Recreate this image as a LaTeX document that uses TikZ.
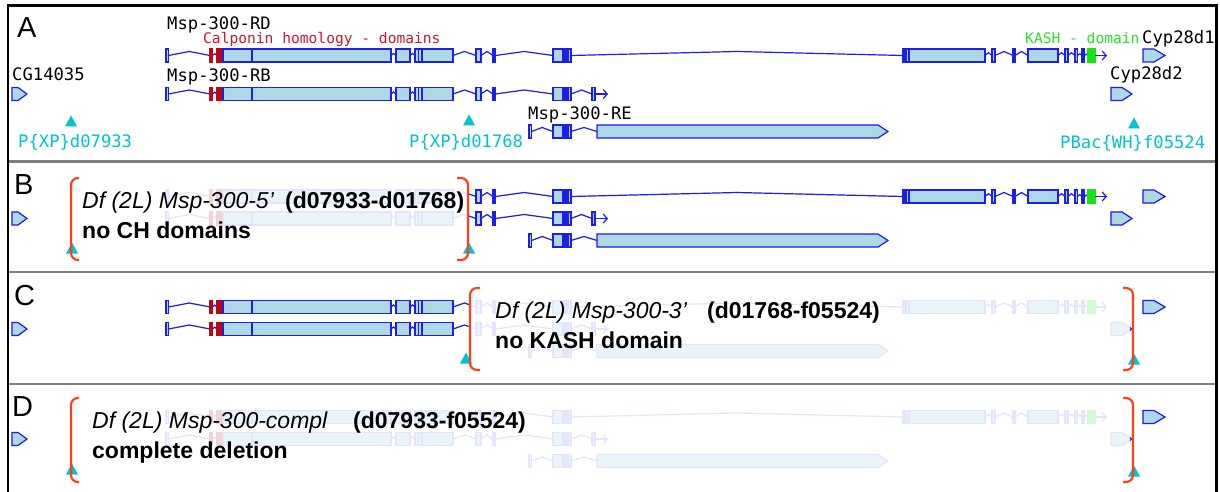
\documentclass[tikz,border=0pt]{standalone}
\usepackage{fontspec}
\setmainfont{Liberation Sans}
\newfontfamily\gbmono{DejaVu Sans Mono}
\usetikzlibrary{arrows.meta}

\definecolor{gblue}{RGB}{30,30,235}
\definecolor{gfill}{RGB}{173,216,230}
\definecolor{gred}{RGB}{185,10,20}
\definecolor{ggreen}{RGB}{20,230,20}
\definecolor{gcyan}{RGB}{0,195,210}
\definecolor{gbrack}{RGB}{255,65,25}
\definecolor{txtred}{RGB}{205,25,35}
\definecolor{txtgreen}{RGB}{40,225,40}
\definecolor{sepgray}{RGB}{125,125,125}
\colorlet{cL}{gblue}
\colorlet{cF}{gfill}
\colorlet{cR}{gred}
\colorlet{cG}{ggreen}

\newcommand\fadecolors{\colorlet{cL}{gblue!12!white}\colorlet{cF}{gfill!25!white}\colorlet{cR}{gred!18!white}\colorlet{cG}{ggreen!20!white}}

\tikzset{
  ln/.style={draw=cL, line width=1.2pt},
  exon/.style={draw=cL, fill=cF, line width=1.2pt},
  exonR/.style={draw=cR, fill=cR, line width=1.2pt},
  exonD/.style={draw=cL, fill=cL, line width=1.2pt},
  exonG/.style={draw=cG, fill=cG, line width=1.2pt},
  endarrow/.style={ln, -{Straight Barb[length=4pt,width=9pt]}},
  lab/.style={font=\gbmono\fontsize{17.2}{19}\selectfont, inner sep=0pt, anchor=base west},
  domlab/.style={font=\gbmono\fontsize{14.6}{17}\selectfont, inner sep=0pt, anchor=base west},
  cyanlab/.style={lab, text=gcyan},
  ptxt/.style={font=\fontsize{23}{27}\selectfont, inner sep=0pt, anchor=base west},
  panel/.style={font=\fontsize{29}{33}\selectfont, inner sep=0pt, anchor=base west},
  brk/.style={draw=gbrack, line width=2.2pt, rounded corners=7pt},
  sep/.style={draw=sepgray, line width=2.5pt},
  frame/.style={draw=black, line width=2.2pt}
}

% exon box: [style]{x1}{x2}{y}
\newcommand\EX[4][exon]{\draw[#1] (#2,{#4-6.5}) rectangle (#3,{#4+6.5});}
% hat intron: {x1}{x2}{y}
\newcommand\IN[3]{\draw[ln] (#1,#3) -- ({(#1+#2)/2},{#3-min(4,(#2-#1)/2.5)}) -- (#2,#3);}
% gene glyph: {x1}{x2}{xtip}{y}
\newcommand\GENE[4]{\draw[exon] (#1,{#4-6.5}) -- (#2,{#4-6.5}) -- (#3,#4) -- (#2,{#4+6.5}) -- (#1,{#4+6.5}) -- cycle;}
% cyan triangle: {x}{ycenter}
\newcommand\TRI[2]{\fill[gcyan] ({#1-6},{#2+5.5}) -- (#1,{#2-5.5}) -- ({#1+6},{#2+5.5}) -- cycle;}

\newcommand\CommonRow[1]{%
  \EX{166}{168.5}{#1}\IN{168.5}{210}{#1}
  \IN{212.5}{217}{#1}
  \EX[exonR]{210}{212.5}{#1}\EX[exonR]{217}{223}{#1}
  \EX{223}{252}{#1}\EX{252}{391}{#1}
  \IN{391}{396}{#1}\EX{396}{410}{#1}
  \IN{410}{415}{#1}\EX{415}{418.5}{#1}\EX{418.5}{422}{#1}\EX{422}{453}{#1}
  \IN{453}{476}{#1}\EX{476}{481}{#1}
  \IN{481}{493}{#1}\EX[exonD]{493}{495.5}{#1}
  \IN{495.5}{553}{#1}
  \EX{553}{563}{#1}\EX[exonD]{563}{568}{#1}\EX{568}{571}{#1}}

\newcommand\RDrow[1]{\CommonRow{#1}
  \IN{571}{903}{#1}
  \EX{903}{905}{#1}\EX{906.5}{909}{#1}\EX{909}{985}{#1}
  \IN{985}{992}{#1}\EX{992}{995}{#1}
  \IN{995}{1013}{#1}\EX[exonD]{1013}{1015}{#1}
  \IN{1015}{1028}{#1}\EX{1028}{1058}{#1}
  \IN{1058}{1065}{#1}\EX{1065}{1068}{#1}
  \IN{1068}{1075}{#1}\EX{1075}{1077.5}{#1}
  \IN{1077.5}{1082}{#1}\EX[exonD]{1082}{1084.5}{#1}
  \IN{1084.5}{1088}{#1}\EX[exonG]{1088}{1095}{#1}
  \draw[endarrow] (1095,#1) -- (1107,#1);}

\newcommand\RBrow[1]{\CommonRow{#1}
  \IN{571}{592}{#1}\EX{592}{595}{#1}
  \draw[endarrow] (595,#1) -- (608,#1);}

\newcommand\RErow[1]{%
  \EX{529}{531.5}{#1}\IN{531.5}{553}{#1}
  \EX{553}{563}{#1}\EX[exonD]{563}{568}{#1}\EX{568}{571}{#1}
  \IN{571}{597}{#1}
  \draw[exon] (597,{#1-6.5}) -- (878,{#1-6.5}) -- (888,#1) -- (878,{#1+6.5}) -- (597,{#1+6.5}) -- cycle;}

\newcommand\ALLtrack[3]{\RDrow{#1}\RBrow{#2}\RErow{#3}%
  \GENE{12}{18}{27}{#2}\GENE{1143}{1154}{1165}{#1}\GENE{1111}{1122}{1132}{#2}}

\begin{document}
\begin{tikzpicture}[x=1pt,y=-1pt]
\useasboundingbox (0,0) rectangle (1220,492);
\fill[white] (0,0) rectangle (1220,492);

% ---------- Panel A ----------
\ALLtrack{55.5}{94}{131.5}
\node[panel] (la) at (17,38) {A};
\node[lab] (trd) at (167,30) {Msp-300-RD};
\node[domlab, text=txtred] (tch) at (203,44) {Calponin homology - domains};
\node[domlab, text=txtgreen] (tkash) at (1025,44) {KASH - domain};
\node[lab] (tcyp1) at (1142,44) {Cyp28d1};
\node[lab] (tcg) at (12,81) {CG14035};
\node[lab] (trb) at (167,82) {Msp-300-RB};
\node[lab] (tcyp2) at (1110,80) {Cyp28d2};
\node[lab] (tre) at (528,120) {Msp-300-RE};
\TRI{71}{121}\TRI{469}{120}\TRI{1134}{123}
\node[cyanlab] (p1) at (18,147) {P\{XP\}d07933};
\node[cyanlab] (p2) at (409,147) {P\{XP\}d01768};
\node[cyanlab] (p3) at (1060,149) {PBac\{WH\}f05524};

% ---------- Panel B ----------
\begin{scope}\fadecolors\ALLtrack{196.5}{218.5}{240.5}\end{scope}
\begin{scope}
  \clip (0,163) rectangle (100,271) (467,163) rectangle (1215,271);
  \ALLtrack{196.5}{218.5}{240.5}
\end{scope}
\node[panel] (lb) at (14,194) {B};
\TRI{72}{248}\TRI{469}{248}
\draw[brk] (79,178) -- (71,178) -- (71,260) -- (79,260);
\draw[brk] (457,178) -- (468,178) -- (468,260) -- (457,260);
\node[ptxt] (b1) at (82,208) {\itshape Df (2L) Msp-300-5’};
\node[ptxt] (b2) at (285,208) {\bfseries (d07933-d01768)};
\node[ptxt] (b3) at (82,238) {\bfseries no CH domains};

% ---------- Panel C ----------
\begin{scope}\fadecolors\ALLtrack{307}{329}{351}\end{scope}
\begin{scope}
  \clip (0,274) rectangle (470,383) (1130,274) rectangle (1215,383);
  \ALLtrack{307}{329}{351}
\end{scope}
\node[panel] (lc) at (14,305) {C};
\TRI{466}{358}\TRI{1134}{359}
\draw[brk] (480,288) -- (470,288) -- (470,370) -- (480,370);
\draw[brk] (1123,288) -- (1133,288) -- (1133,370) -- (1123,370);
\node[ptxt] (c1) at (495,318) {\itshape Df (2L) Msp-300-3’};
\node[ptxt] (c2) at (707,318) {\bfseries (d01768-f05524)};
\node[ptxt] (c3) at (495,348) {\bfseries no KASH domain};

% ---------- Panel D ----------
\begin{scope}\fadecolors\ALLtrack{417}{439}{461}\end{scope}
\begin{scope}
  \clip (0,386) rectangle (40,492) (1130,386) rectangle (1215,492);
  \ALLtrack{417}{439}{461}
\end{scope}
\node[panel] (ld) at (12,416) {D};
\TRI{72}{469}\TRI{1134}{471}
\draw[brk] (79,398) -- (71,398) -- (71,482) -- (79,482);
\draw[brk] (1123,398) -- (1133,398) -- (1133,482) -- (1123,482);
\node[ptxt] (d1) at (92,428) {\itshape Df (2L) Msp-300-compl};
\node[ptxt] (d2) at (353,428) {\bfseries (d07933-f05524)};
\node[ptxt] (d3) at (92,458) {\bfseries complete deletion};

% ---------- frame ----------
\draw[sep] (8,161.5) -- (1216.5,161.5);
\draw[sep] (8,272) -- (1216.5,272);
\draw[sep] (8,384) -- (1216.5,384);
\draw[frame] (8,492) -- (8,5.5) -- (1216.5,5.5) -- (1216.5,492);
\end{tikzpicture}
\end{document}
